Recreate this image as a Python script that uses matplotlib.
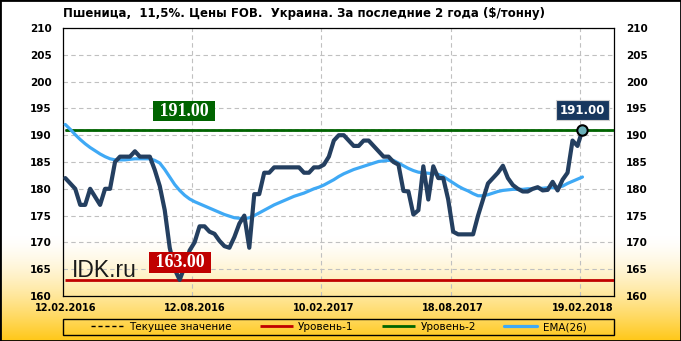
import matplotlib.pyplot as plt
import numpy as np
from matplotlib.patches import Rectangle

title = 'Пшеница,  11,5%. Цены FOB.  Украина. За последние 2 года ($/тонну)'

# weekly prices, $/t
price = [182, 181, 180, 177, 177, 180, 178.5, 177, 180, 180,
         185, 186, 186, 186, 187, 186, 186, 186, 183.5, 180.5,
         176, 169, 165, 163, 165.5, 168.5, 170, 173, 173, 172,
         171.6, 170.3, 169.3, 169, 171, 173.5, 175, 169, 179, 179,
         183, 183, 184, 184, 184, 184, 184, 184, 183, 183,
         184, 184, 184.5, 186, 189, 190, 190, 189, 188, 188,
         189, 189, 188, 187, 186, 186, 185, 184.5, 179.6, 179.5,
         175.2, 176, 184.2, 178, 184.2, 182, 182, 178, 172, 171.5,
         171.5, 171.5, 171.5, 175, 178, 181, 182, 183, 184.3, 182,
         180.7, 180, 179.5, 179.5, 180, 180.3, 179.7, 179.8, 181.3, 179.7,
         181.7, 183, 189, 188, 191]

ema = [192.0, 191.1, 190.1, 189.2, 188.4, 187.7, 187.1, 186.5, 186.0, 185.6,
       185.4, 185.4, 185.4, 185.5, 185.6, 185.6, 185.6, 185.6, 185.3, 184.8,
       183.6, 182.2, 180.8, 179.7, 178.8, 178.1, 177.6, 177.2, 176.8, 176.4,
       176.0, 175.6, 175.2, 174.9, 174.6, 174.5, 174.4, 174.6, 175.0, 175.5,
       176.0, 176.5, 177.0, 177.4, 177.8, 178.2, 178.6, 178.9, 179.2, 179.6,
       180.0, 180.3, 180.7, 181.2, 181.7, 182.3, 182.8, 183.2, 183.6, 183.9,
       184.2, 184.5, 184.8, 185.1, 185.2, 185.3, 185.3, 184.8, 184.3, 183.8,
       183.4, 183.1, 183.0, 182.9, 182.8, 182.7, 182.3, 181.7, 181.1, 180.5,
       180.0, 179.6, 179.1, 178.7, 178.7, 178.9, 179.2, 179.5, 179.7, 179.8,
       179.9, 179.9, 179.9, 180.0, 180.0, 180.1, 180.1, 180.2, 180.2, 180.3,
       180.5, 181.0, 181.4, 181.8, 182.2]

date_labels = ['12.02.2016', '12.08.2016', '10.02.2017', '18.08.2017', '19.02.2018']
label_step = 26

level1 = 163.0
level2 = 191.0
current = price[-1]

legend_names = ['Текущее значение', 'Уровень-1', 'Уровень-2', 'EMA(26)']

W, H = 681, 341
fig = plt.figure(figsize=(W / 100, H / 100), dpi=100)

# yellow gradient background
bg = fig.add_axes([0, 0, 1, 1], zorder=-10)
bg.axis('off')
rows = np.arange(H)
t = np.clip((rows - 235) / (H - 235), 0, 1) ** 1.5
c_top = np.array([1.0, 1.0, 1.0])
c_bot = np.array([1.0, 0.78, 0.08])
grad = c_top[None, :] * (1 - t[:, None]) + c_bot[None, :] * t[:, None]
bg.imshow(grad[:, None, :], aspect='auto', extent=[0, 1, 0, 1])

ax = fig.add_axes([63.3 / W, 1 - 296 / H, 551 / W, 268 / H])
ax.set_facecolor('none')

x = np.arange(len(price))
xmax = 110.4
ax.set_xlim(-0.4, xmax)
ax.set_ylim(160, 210)

yt = list(range(160, 211, 5))
ax.set_yticks(yt, [str(v) for v in yt], fontweight='bold', fontsize=7.5)
ax.set_xticks(x[::label_step], date_labels, fontweight='bold', fontsize=7)
ax.set_xticks(x[label_step::label_step] - 0.5, minor=True)
ax.tick_params(axis='y', length=0, pad=8.5, left=True, right=True,
               labelleft=True, labelright=True)
ax.tick_params(axis='x', which='both', length=0, pad=5)
ax.grid(axis='y', color='#c0c0c0', ls=(0, (4, 3)), lw=0.8)
ax.grid(axis='x', which='minor', color='#c0c0c0', ls=(0, (4, 3)), lw=0.8)
for s in ax.spines.values():
    s.set_linewidth(0.9)
    s.set_color('black')

h_cur = ax.hlines(current, 0, xmax, colors='black', linestyles=(0, (3, 2)), lw=1, zorder=2)
h_l1 = ax.hlines(level1, 0, xmax, colors='#C00000', lw=2, zorder=3)
h_l2 = ax.hlines(level2, 0, xmax, colors='#006400', lw=2, zorder=3)
h_ema, = ax.plot(x, ema, color='#3FA9F5', lw=2.3, zorder=4, solid_capstyle='round')
ax.plot(x, price, color='#243F60', lw=3, zorder=5,
        solid_joinstyle='round', solid_capstyle='round')
ax.plot(x[-1], price[-1], 'o', ms=7.5, mfc='#6BB0B8', mec='black', mew=1.5, zorder=7)

min_idx = int(np.argmin(price))
ax.annotate(f' {level2:.2f} ', xy=(min_idx, level2), xytext=(3, 13.5),
            textcoords='offset points', ha='center', va='center', color='white',
            fontsize=13, fontweight='bold', family='Liberation Serif',
            bbox=dict(boxstyle='square,pad=0.1', fc='#006400', ec='none'), zorder=8)
ax.annotate(f' {level1:.2f} ', xy=(min_idx, level1), xytext=(0, 12.7),
            textcoords='offset points', ha='center', va='center', color='white',
            fontsize=13, fontweight='bold', family='Liberation Serif',
            bbox=dict(boxstyle='square,pad=0.1', fc='#C00000', ec='none'), zorder=8)
ax.annotate(f'{current:.2f}', xy=(x[-1], current), xytext=(0, 14),
            textcoords='offset points', ha='center', va='center', color='white',
            fontsize=8.5, fontweight='bold',
            bbox=dict(boxstyle='square,pad=0.3', fc='#17375E', ec='#d0d0d0', lw=0.8),
            zorder=8)

fig.text(63 / W, 1 - 14 / H, title, fontsize=8.5, fontweight='bold', va='center', ha='left')
fig.text(71.7 / W, 1 - 276.7 / H, 'IDK.ru', fontsize=16.5, family='Liberation Sans',
         va='baseline', color='#1a1a1a')

# legend box: frame drawn separately, entries centred inside
leg_box = (62.7 / W, 1 - 335 / H, 551.6 / W, 16 / H)
fig.add_artist(Rectangle(leg_box[:2], leg_box[2], leg_box[3], transform=fig.transFigure,
                         fill=False, ec='black', lw=1, zorder=5))
fig.legend([h_cur, h_l1, h_l2, h_ema], legend_names, loc='center',
           bbox_to_anchor=leg_box, ncol=4, frameon=False, fontsize=7.5,
           handlelength=3.2, handletextpad=0.5, columnspacing=2.7,
           borderpad=0, borderaxespad=0)

fig.add_artist(Rectangle((0, 0), 1, 1, transform=fig.transFigure, fill=False,
                         ec='black', lw=2, zorder=20))

fig.savefig('out.png', dpi=100)
